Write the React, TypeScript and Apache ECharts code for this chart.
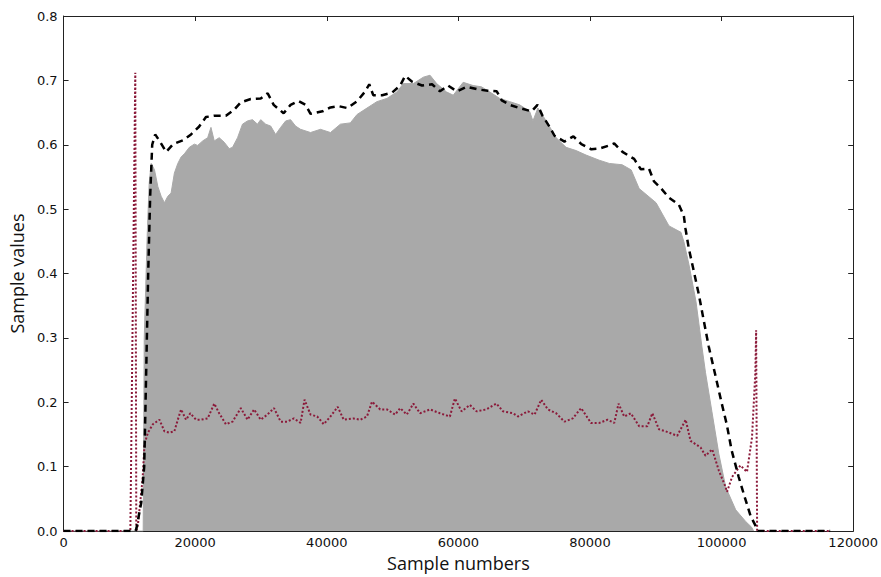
import React, { useEffect, useRef } from "react";
import * as echarts from "echarts";

// Gray signal envelope (sample number, value)
const grayX = [0, 12100, 12260, 12710, 13010, 13320, 13820, 14330, 14830, 15330, 15840, 16340, 16840, 17360, 17860, 18360, 19110, 19870, 20380, 21140, 21900, 22400, 22900, 23650, 24410, 25170, 25680, 26440, 27190, 27950, 28710, 29460, 29960, 30720, 31480, 32230, 32990, 33750, 34500, 35260, 36020, 37530, 39040, 40560, 42070, 43580, 44600, 46110, 47620, 49140, 50650, 51650, 53160, 54680, 55690, 56700, 58210, 59220, 60730, 62240, 63510, 64770, 66280, 67800, 69310, 70820, 71330, 72080, 73350, 74860, 76370, 77890, 79400, 81410, 82930, 84880, 86260, 87470, 90040, 92010, 93830, 94280, 95040, 96100, 97000, 97560, 98520, 99580, 100640, 102150, 103660, 104570, 104870];
const grayY = [0, 0, 0.3, 0.46, 0.54, 0.571, 0.561, 0.535, 0.52, 0.51, 0.52, 0.525, 0.556, 0.571, 0.581, 0.586, 0.596, 0.601, 0.599, 0.606, 0.611, 0.627, 0.606, 0.611, 0.604, 0.594, 0.596, 0.611, 0.632, 0.637, 0.639, 0.632, 0.639, 0.632, 0.629, 0.616, 0.627, 0.637, 0.639, 0.629, 0.624, 0.619, 0.624, 0.619, 0.632, 0.634, 0.647, 0.657, 0.667, 0.672, 0.682, 0.695, 0.695, 0.705, 0.708, 0.695, 0.682, 0.677, 0.697, 0.692, 0.69, 0.682, 0.672, 0.667, 0.662, 0.652, 0.637, 0.657, 0.637, 0.611, 0.596, 0.591, 0.584, 0.576, 0.571, 0.569, 0.561, 0.532, 0.51, 0.474, 0.464, 0.449, 0.414, 0.357, 0.287, 0.246, 0.186, 0.12, 0.068, 0.033, 0.015, 0.006, 0];

// Black dashed envelope
const dashX = [0, 10900, 11050, 11800, 12250, 12400, 12560, 12860, 13160, 13470, 13920, 14530, 15590, 16650, 18160, 19370, 20580, 21640, 22850, 24670, 25880, 26940, 28450, 29960, 31020, 31930, 33440, 34500, 35710, 36770, 37530, 39350, 40560, 41770, 43130, 44640, 45850, 46460, 47060, 48430, 49940, 51150, 51910, 52970, 54480, 55990, 57200, 58410, 59780, 61290, 62950, 64470, 65830, 66590, 67800, 69310, 71130, 72030, 72790, 73850, 74610, 76120, 77480, 78690, 80200, 81410, 82930, 83680, 84940, 86710, 87720, 88970, 89730, 90740, 91990, 93500, 94260, 94510, 95020, 95770, 96530, 97290, 98040, 99120, 100030, 100780, 101540, 102600, 103510, 104420, 105330, 105500, 116500];
const dashY = [0, 0, 0.003, 0.044, 0.1, 0.17, 0.25, 0.4, 0.52, 0.6, 0.616, 0.607, 0.589, 0.601, 0.607, 0.616, 0.628, 0.643, 0.645, 0.645, 0.654, 0.666, 0.671, 0.672, 0.68, 0.662, 0.649, 0.662, 0.668, 0.662, 0.648, 0.652, 0.658, 0.66, 0.657, 0.668, 0.683, 0.694, 0.677, 0.677, 0.681, 0.692, 0.707, 0.698, 0.692, 0.694, 0.683, 0.692, 0.683, 0.69, 0.686, 0.684, 0.683, 0.669, 0.662, 0.657, 0.652, 0.662, 0.645, 0.628, 0.614, 0.605, 0.613, 0.601, 0.593, 0.594, 0.599, 0.602, 0.589, 0.578, 0.562, 0.563, 0.543, 0.533, 0.518, 0.507, 0.49, 0.47, 0.439, 0.404, 0.368, 0.327, 0.287, 0.239, 0.198, 0.166, 0.125, 0.084, 0.053, 0.023, 0.005, 0, 0];

// Dark red dotted curve
const dotX = [0, 10150, 10900, 11050, 11300, 12000, 12300, 12820, 13570, 14570, 15330, 16090, 16840, 17360, 17860, 18610, 19260, 20130, 20880, 21900, 22900, 23650, 24670, 25680, 26940, 27950, 28950, 29960, 30980, 31980, 32990, 34000, 35000, 36020, 36620, 37530, 38540, 39540, 40560, 41660, 42570, 44080, 45100, 46110, 46870, 48120, 49140, 50390, 51150, 52160, 53160, 54180, 55690, 57200, 58710, 59470, 60490, 61740, 62760, 64270, 65780, 66780, 68300, 69050, 70560, 71580, 72590, 73600, 74860, 76120, 77380, 78650, 80160, 81420, 82670, 83690, 84340, 85200, 86210, 87470, 88720, 89480, 90490, 91500, 93260, 94540, 95290, 96810, 97560, 98570, 99580, 100590, 100830, 101590, 102860, 103860, 104620, 105130, 105250, 105400, 116500];
const dotY = [0, 0, 0.712, 0, 0.01, 0.08, 0.135, 0.153, 0.166, 0.173, 0.155, 0.153, 0.155, 0.173, 0.189, 0.173, 0.183, 0.173, 0.173, 0.175, 0.198, 0.183, 0.166, 0.17, 0.191, 0.173, 0.189, 0.173, 0.181, 0.191, 0.17, 0.17, 0.175, 0.168, 0.204, 0.181, 0.178, 0.166, 0.178, 0.193, 0.173, 0.175, 0.173, 0.178, 0.201, 0.189, 0.189, 0.181, 0.191, 0.181, 0.198, 0.183, 0.189, 0.183, 0.178, 0.206, 0.186, 0.196, 0.186, 0.189, 0.198, 0.186, 0.183, 0.178, 0.186, 0.181, 0.204, 0.189, 0.183, 0.17, 0.175, 0.191, 0.168, 0.168, 0.173, 0.168, 0.198, 0.178, 0.183, 0.163, 0.163, 0.183, 0.158, 0.155, 0.148, 0.173, 0.14, 0.13, 0.117, 0.127, 0.094, 0.069, 0.061, 0.084, 0.102, 0.092, 0.145, 0.246, 0.312, 0, 0];

const xTicks = { min: 0, max: 120000, interval: 20000 };
const yTicks = { min: 0, max: 0.8, interval: 0.1 };

const zip = (xs: number[], ys: number[]) => xs.map((x, i) => [x, ys[i]]);

export default function App() {
  const ref = useRef<HTMLDivElement>(null);
  useEffect(() => {
    if (!ref.current) return;
    const chart = echarts.init(ref.current, null, { renderer: "svg" });
    const frame = "#222";
    const tickFont = { fontFamily: "DejaVu Sans", fontSize: 13, color: "#111" };
    const baseX = {
      type: "value" as const,
      min: xTicks.min,
      max: xTicks.max,
      interval: xTicks.interval,
      splitLine: { show: false },
      axisLine: { show: true, onZero: false, lineStyle: { color: frame, width: 1 } },
      axisTick: { show: true, inside: true, length: 5, lineStyle: { color: frame } },
    };
    const baseY = {
      type: "value" as const,
      min: yTicks.min,
      max: yTicks.max,
      interval: yTicks.interval,
      splitLine: { show: false },
      axisLine: { show: true, onZero: false, lineStyle: { color: frame, width: 1 } },
      axisTick: { show: true, inside: true, length: 5, lineStyle: { color: frame } },
    };
    chart.setOption({
      animation: false,
      backgroundColor: "#fff",
      grid: { left: 62, top: 16, width: 793, height: 526, containLabel: false },
      xAxis: [
        {
          ...baseX,
          position: "bottom",
          name: "Sample numbers",
          nameLocation: "middle",
          nameGap: 17,
          nameTextStyle: { fontFamily: "Open Sans", fontSize: 18, color: "#111" },
          axisLabel: { ...tickFont, margin: 5, formatter: (v: number) => String(v) },
        },
        { ...baseX, position: "top", axisLabel: { show: false } },
      ],
      yAxis: [
        {
          ...baseY,
          position: "left",
          name: "Sample values",
          nameLocation: "middle",
          nameGap: 32,
          nameRotate: 90,
          nameTextStyle: { fontFamily: "Open Sans", fontSize: 18, color: "#111" },
          axisLabel: { ...tickFont, margin: 6, formatter: (v: number) => v.toFixed(1) },
        },
        { ...baseY, position: "right", axisLabel: { show: false } },
      ],
      series: [
        {
          type: "line",
          data: zip(grayX, grayY),
          showSymbol: false,
          symbol: "none",
          lineStyle: { color: "#a9a9a9", width: 1 },
          areaStyle: { color: "#a9a9a9", opacity: 1 },
          z: 1,
        },
        {
          type: "line",
          data: zip(dotX, dotY),
          showSymbol: false,
          symbol: "none",
          lineStyle: { color: "#8b1a3a", width: 2, type: [2, 2] },
          z: 2,
        },
        {
          type: "line",
          data: zip(dashX, dashY),
          showSymbol: false,
          symbol: "none",
          lineStyle: { color: "#000", width: 2.5, type: [7, 5] },
          z: 3,
        },
      ],
    });
    return () => chart.dispose();
  }, []);
  return (
    <div
      ref={ref}
      style={{ position: "fixed", left: 0, top: 0, width: 881, height: 577, background: "#fff" }}
    />
  );
}
